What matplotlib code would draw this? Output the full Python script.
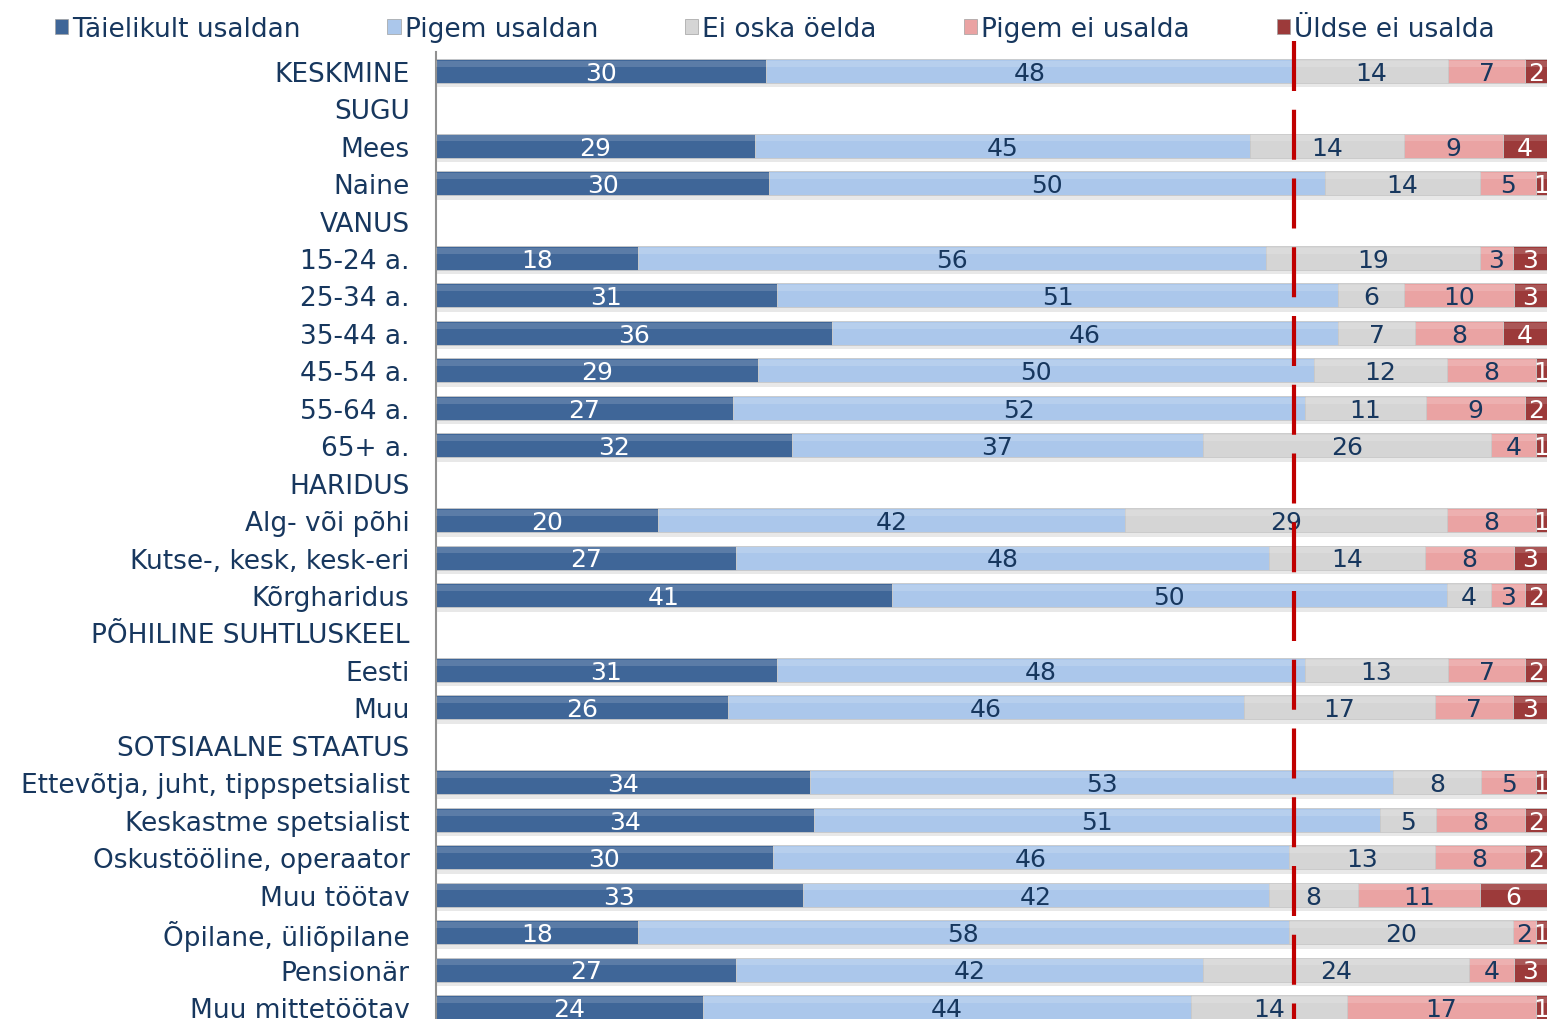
import numpy as np
import matplotlib.pyplot as plt
from matplotlib.patches import Rectangle

# rows top to bottom; header rows have no values
labels = ['KESKMINE', 'SUGU', 'Mees', 'Naine', 'VANUS', '15-24 a.', '25-34 a.', '35-44 a.',
          '45-54 a.', '55-64 a.', '65+ a.', 'HARIDUS', 'Alg- või põhi', 'Kutse-, kesk, kesk-eri',
          'Kõrgharidus', 'PÕHILINE SUHTLUSKEEL', 'Eesti', 'Muu', 'SOTSIAALNE STAATUS',
          'Ettevõtja, juht, tippspetsialist', 'Keskastme spetsialist', 'Oskustööline, operaator',
          'Muu töötav', 'Õpilane, üliõpilane', 'Pensionär', 'Muu mittetöötav']

taielikult = [30, None, 29, 30, None, 18, 31, 36, 29, 27, 32, None, 20, 27, 41, None, 31, 26, None, 34, 34, 30, 33, 18, 27, 24]
pigem = [48, None, 45, 50, None, 56, 51, 46, 50, 52, 37, None, 42, 48, 50, None, 48, 46, None, 53, 51, 46, 42, 58, 42, 44]
ei_oska = [14, None, 14, 14, None, 19, 6, 7, 12, 11, 26, None, 29, 14, 4, None, 13, 17, None, 8, 5, 13, 8, 20, 24, 14]
pigem_ei = [7, None, 9, 5, None, 3, 10, 8, 8, 9, 4, None, 8, 8, 3, None, 7, 7, None, 5, 8, 8, 11, 2, 4, 17]
uldse = [2, None, 4, 1, None, 3, 3, 4, 1, 2, 1, None, 1, 3, 2, None, 2, 3, None, 1, 2, 2, 6, 1, 3, 1]

series = ['Täielikult usaldan', 'Pigem usaldan', 'Ei oska öelda', 'Pigem ei usalda', 'Üldse ei usalda']
colors = ['#3F6698', '#ABC7EB', '#D5D5D5', '#EAA3A3', '#9C3A3A']
text_colors = ['white', '#17375E', '#17375E', '#17375E', 'white']
navy = '#17375E'

data = [taielikult, pigem, ei_oska, pigem_ei, uldse]

fig = plt.figure(figsize=(15.49, 10.20), dpi=100)
ax = fig.add_axes([436 / 1549, 0, 1111 / 1549, 1 - 53 / 1020])

n = len(labels)
y = np.arange(n)
h = 0.64

for i in range(n):
    vals = [d[i] for d in data]
    if vals[0] is None:
        continue
    total = float(sum(vals))
    left = 0.0
    # soft shadow under the bar
    ax.add_patch(Rectangle((0, i + h / 2), 100, 0.12, color='#E8E8E8', lw=0, zorder=1))
    for k, v in enumerate(vals):
        w = v / total * 100
        ax.barh(i, w, left=left, height=h, color=colors[k], edgecolor='#C8C8C8', linewidth=0.6, zorder=2)
        # light highlight on the upper part
        ax.barh(i - h * 0.3, w, left=left, height=h * 0.25, color='white', alpha=0.15, linewidth=0, zorder=3)
        ax.text(left + w / 2, i + 0.05, str(v), ha='center', va='center', fontsize=18,
                color=text_colors[k], zorder=5)
        left += w

# reference line at the average "usaldan" share
ref = (taielikult[0] + pigem[0]) / float(sum(d[0] for d in data)) * 100
ax.plot([ref, ref], [-0.8, 25.4], color='#C00000', lw=3, dashes=(12, 4.5), zorder=6, clip_on=False)

ax.set_xlim(0, 100)
ax.set_ylim(25.32, -0.5)
ax.set_yticks(y)
ax.set_yticklabels(labels, fontsize=19, color=navy)
ax.tick_params(axis='y', length=0, pad=19)
ax.set_xticks([])
for s in ['top', 'right', 'bottom']:
    ax.spines[s].set_visible(False)
ax.spines['left'].set_color('#909090')
ax.spines['left'].set_linewidth(1.5)

handles = [Rectangle((0, 0), 1, 1, facecolor=c, edgecolor='#A0A0A0', lw=0.5) for c in colors]
fig.legend(handles, series, loc='upper left', bbox_to_anchor=(0.02, 1.007), ncol=5, frameon=False,
           fontsize=19, labelcolor=navy, handlelength=0.5, handleheight=0.5, handletextpad=0.15,
           columnspacing=3.3)

fig.savefig('out.png', dpi=100)
